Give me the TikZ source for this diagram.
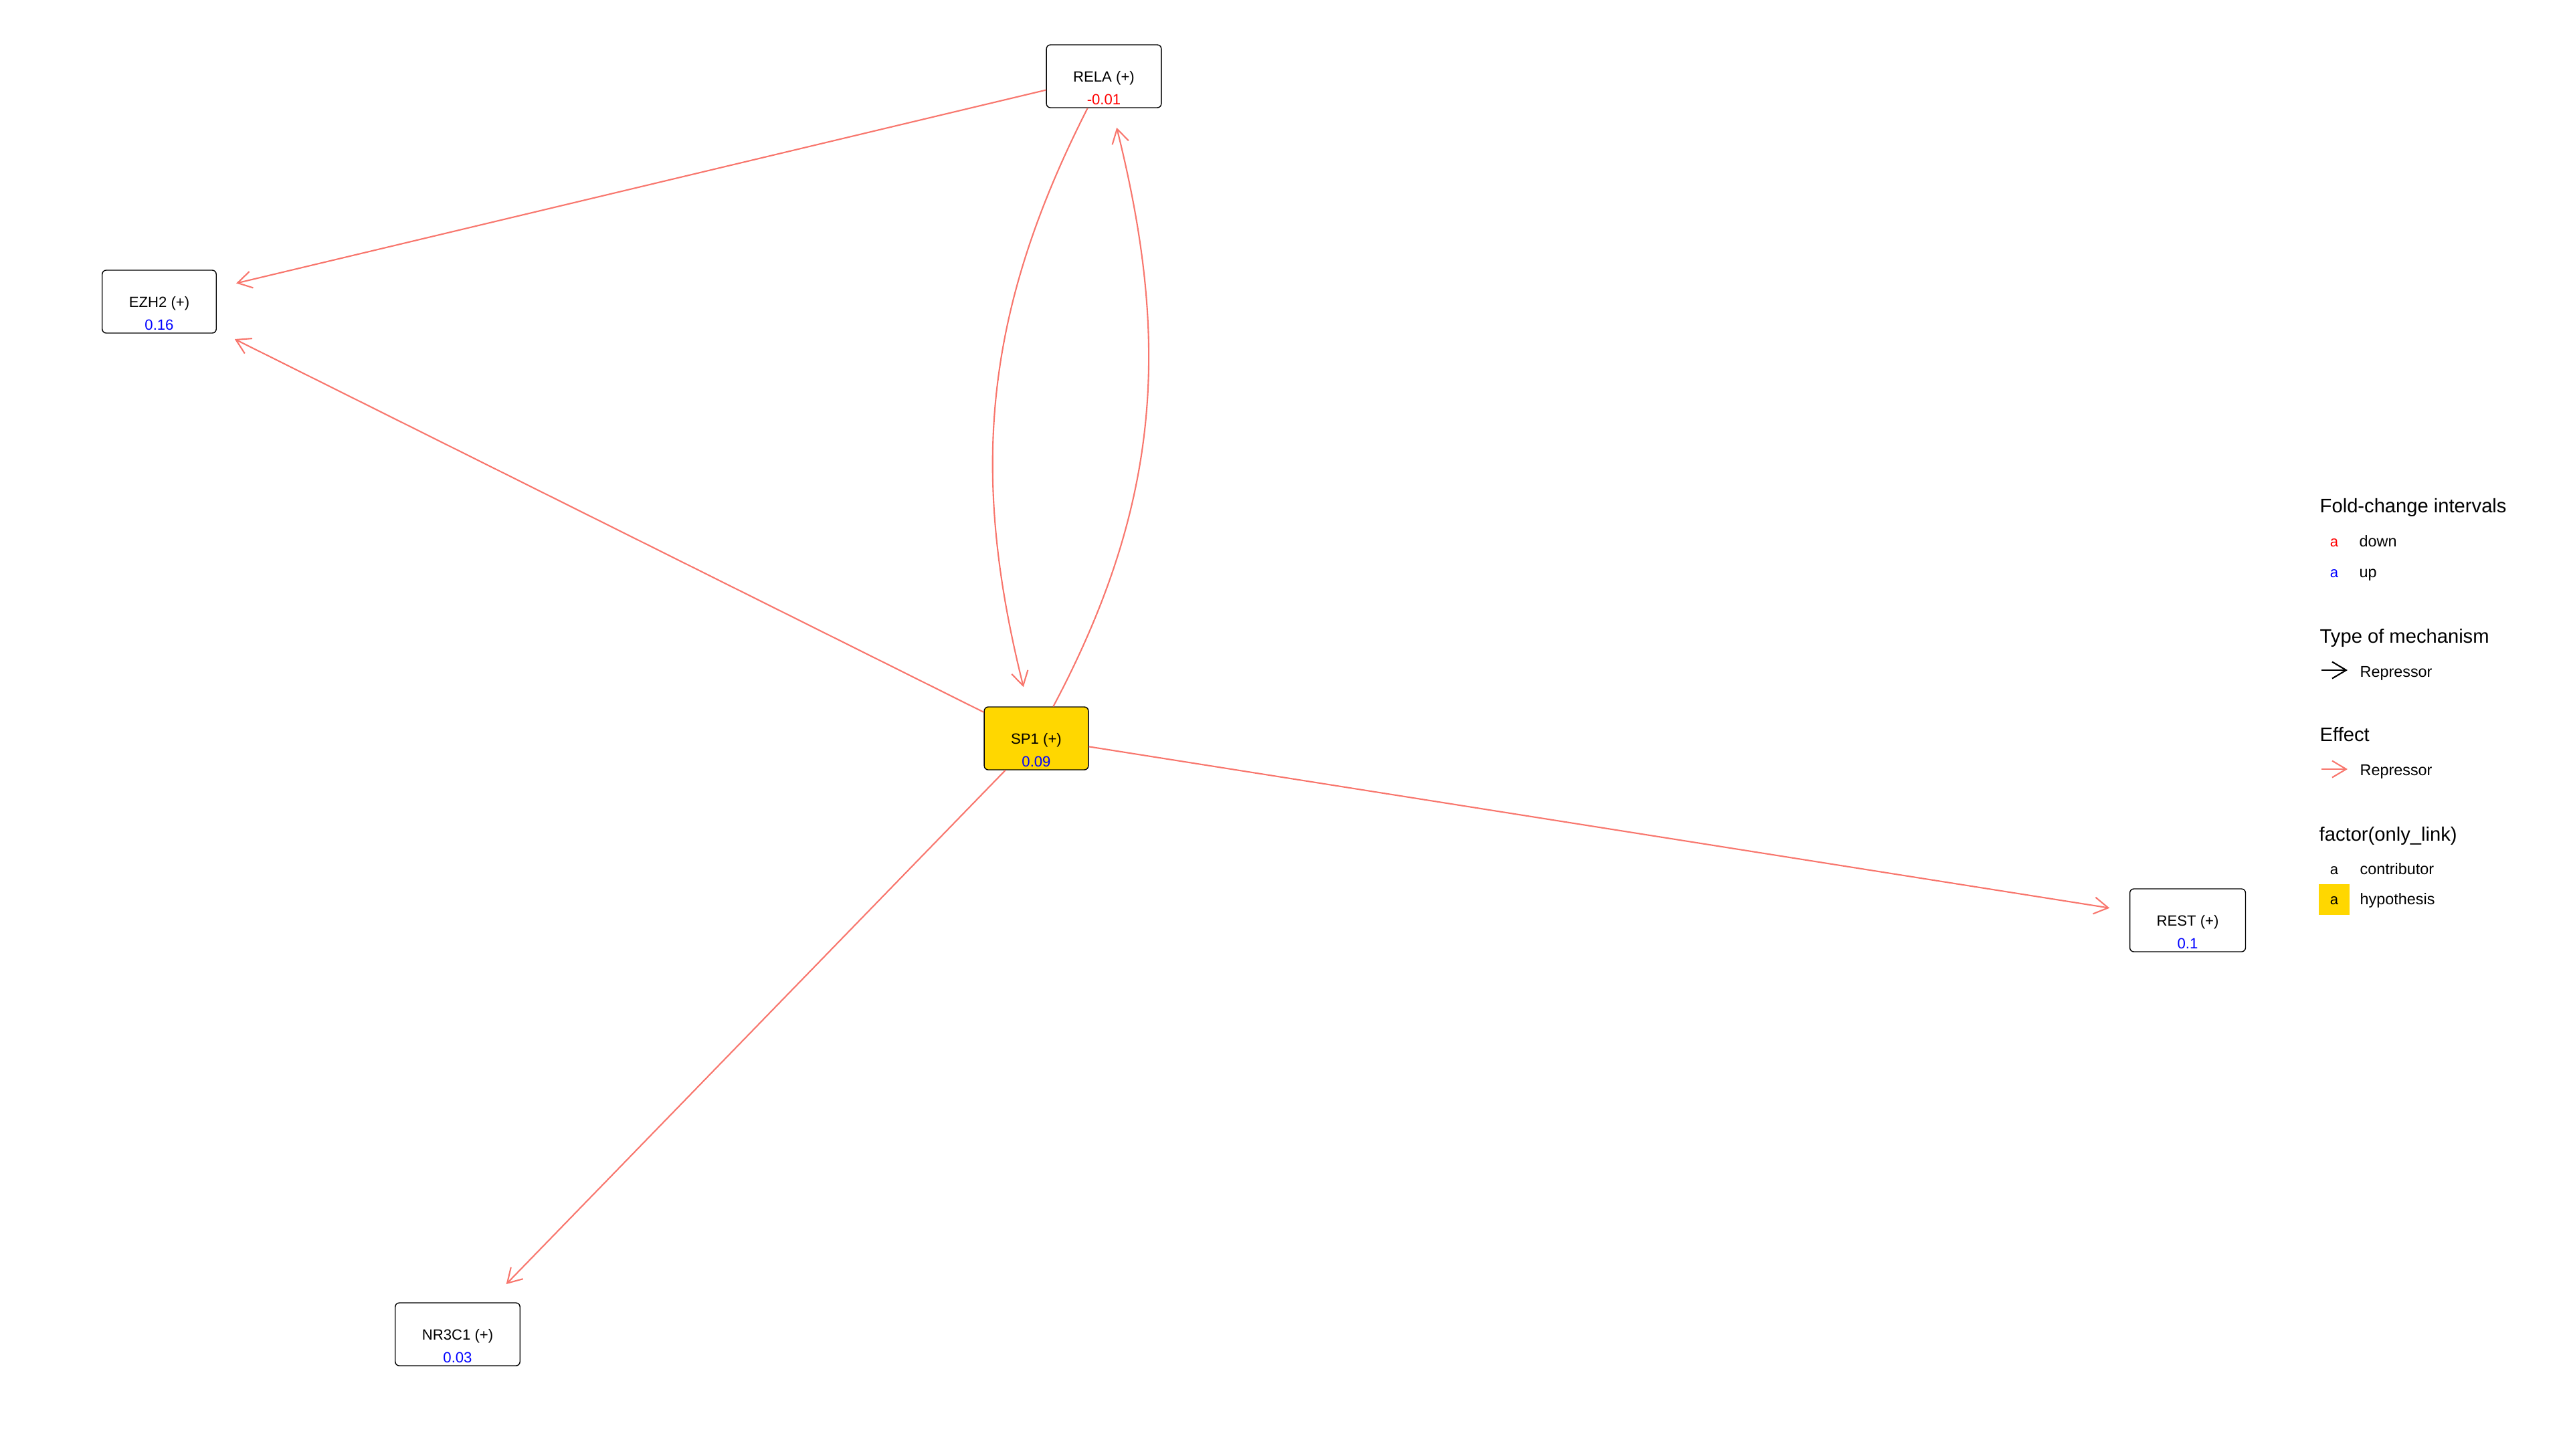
\documentclass[tikz,border=0pt]{standalone}
\usepackage{fontspec}
\setmainfont{Liberation Sans}
\usetikzlibrary{calc}
\usetikzlibrary{arrows.meta}
\definecolor{edgered}{HTML}{F8766D}
\definecolor{hypgold}{HTML}{FFD700}

\begin{document}
\begin{tikzpicture}[px unit/.code={{\newdimen\pxunit}\setlength{\pxunit}{#1}},px unit=0.1mm,x=\pxunit,y=\pxunit,box/.style={rectangle,draw,rounded corners=6\pxunit,line width=0.4pt,minimum height=94\pxunit,inner xsep=40\pxunit,text height=16\pxunit,text depth=0pt,font=\fontsize{6.3}{7.6}\selectfont},fcval/.style={anchor=base,inner sep=0,font=\fontsize{6.3}{7.6}\selectfont},outer box/.style={draw=none,inner sep=0,outer sep=0,anchor=north west},effect/.style={draw=edgered,line width=0.6pt,-{Straight Barb[length=2.1mm,width=2.5mm]}},link/.style={effect,shorten >=30\pxunit},legend title/.style={anchor=base west,inner sep=0,font=\fontsize{8.3}{10}\selectfont},legend text/.style={anchor=base west,inner sep=0,font=\fontsize{6.65}{8}\selectfont},keybox/.style={minimum size=46\pxunit,inner sep=0,text height=14\pxunit,text depth=0pt,font=\fontsize{6.3}{7.6}\selectfont}]
  \node[outer box,minimum width=3840\pxunit,minimum height=2176\pxunit] (root) at (0,0) {};
  \node[box] (n1) at (1650,-114) {RELA (+)};
  \node[fcval,text=red] (n1v) at ($(n1.south)+(0,5)$) {-0.01};
  \node[box] (n2) at (238,-451) {EZH2 (+)};
  \node[fcval,text=blue] (n2v) at ($(n2.south)+(0,5)$) {0.16};
  \node[box,fill=hypgold] (n3) at (1549,-1104) {SP1 (+)};
  \node[fcval,text=blue] (n3v) at ($(n3.south)+(0,5)$) {0.09};
  \node[box] (n4) at (3270,-1376) {REST (+)};
  \node[fcval,text=blue] (n4v) at ($(n4.south)+(0,5)$) {0.1};
  \node[box] (n5) at (684,-1995) {NR3C1 (+)};
  \node[fcval,text=blue] (n5v) at ($(n5.south)+(0,5)$) {0.03};
  \path[link] (n1) -- (n2);
  \path[link] (n3) -- (n2);
  \path[link] (n1) to[out=243,in=104] (n3);
  \path[link] (n3) to[out=62,in=284] (n1);
  \path[link] (n3) -- (n4);
  \path[link,shorten >=38\pxunit] (n3) -- (n5);
  \node[legend title] (t1) at (3467,-766) {Fold-change intervals};
  \node[keybox,text=red] (k1) at (3489,-810) {a};
  \node[legend text] (l1) at (3526,-817) {down};
  \node[keybox,text=blue] (k2) at (3489,-856) {a};
  \node[legend text] (l2) at (3526,-863) {up};
  \node[legend title] (t2) at (3467,-961) {Type of mechanism};
  \coordinate (a1) at (3470,-1002);
  \coordinate (a2) at (3509,-1002);
  \path[effect,draw=black] (a1) -- (a2);
  \node[legend text] (l3) at (3527,-1012) {Repressor};
  \node[legend title] (t3) at (3467,-1108) {Effect};
  \coordinate (a3) at (3470,-1150);
  \coordinate (a4) at (3509,-1150);
  \path[effect] (a3) -- (a4);
  \node[legend text] (l4) at (3527,-1159) {Repressor};
  \node[legend title] (t4) at (3466,-1257) {factor(only\_link)};
  \node[keybox] (k3) at (3489,-1300) {a};
  \node[legend text] (l5) at (3527,-1307) {contributor};
  \node[keybox,fill=hypgold] (k4) at (3489,-1345) {a};
  \node[legend text] (l6) at (3527,-1352) {hypothesis};
\end{tikzpicture}
\end{document}
